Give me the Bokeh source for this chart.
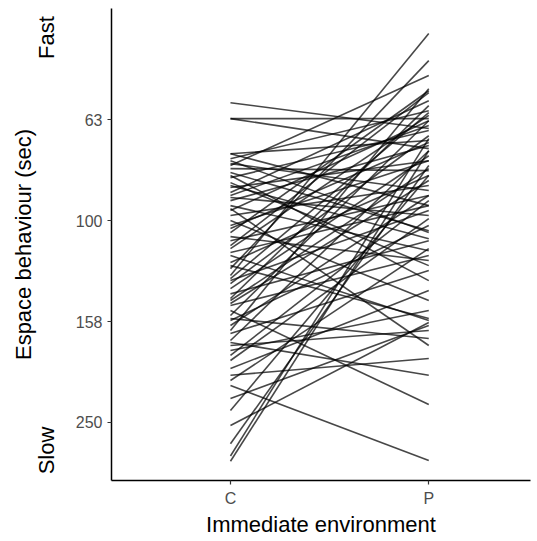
import math
from bokeh.plotting import figure
from bokeh.models import Range1d, FixedTicker, LogAxis, ColumnDataSource
from bokeh.embed import file_html
from bokeh.resources import INLINE

categories = ["C", "P"]

# escape time (sec) for each individual in environment C and P
time_C = [58.4, 62.8, 62.8, 73.7, 73.7, 75.4, 77.1, 78.9, 80.3, 82.2,
          84.1, 86.0, 88.0, 90.0, 91.3, 93.4, 95.5, 97.7, 100.0, 102.3,
          105.6, 109.6, 113.6, 117.3, 121.1, 124.5, 128.5, 131.5, 133.3, 136.4,
          139.7, 142.7, 146.0, 150.7, 154.2, 157.8, 165.1, 167.4, 172.8, 176.8,
          185.0, 196.4, 202.5, 212.2, 225.1, 237.8, 254.7, 276.8, 292.7, 299.8,
          77.8, 81.4, 85.2, 89.2, 94.7, 103.7, 107.6, 112.1, 115.7, 122.8,
          130.3, 144.0, 147.3, 156.3, 161.4, 180.9, 189.3, 207.4, 174.4, 76.1]
time_P = [65.7, 62.8, 72.0, 69.4, 93.4, 60.6, 87.2, 79.6, 104.7, 66.3,
          122.8, 76.1, 57.9, 97.7, 71.0, 114.7, 63.4, 85.2, 144.0, 76.1,
          55.3, 89.2, 61.9, 157.8, 81.4, 48.2, 42.6, 95.5, 67.9, 74.4,
          109.6, 59.2, 83.3, 231.4, 63.4, 102.3, 54.8, 125.6, 72.7, 165.1,
          91.3, 137.6, 187.6, 298.6, 161.4, 81.4, 159.2, 77.8, 68.8, 72.7,
          51.6, 131.5, 108.6, 64.8, 176.8, 70.0, 120.0, 55.8, 93.4, 156.3,
          61.1, 78.9, 117.3, 171.3, 89.2, 150.7, 99.1, 113.6, 202.5, 105.6]

y_ticks = [63.1, 100.0, 158.5, 251.2]
y_tick_labels = ["63", "100", "158", "250"]
speed_ticks = [43.4, 285.4]
speed_labels = ["Fast", "Slow"]

x_pos = [1, 2]
xs = [x_pos for _ in time_C]
ys = [[c, q] for c, q in zip(time_C, time_P)]
src = ColumnDataSource(dict(xs=xs, ys=ys))

y_lo, y_hi = 327.3, 38.0
x_lo, x_hi = 0.4, 2.513

p = figure(width=537, height=541, output_backend="svg", toolbar_location=None,
           y_axis_type="log",
           x_range=Range1d(x_lo, x_hi), y_range=Range1d(y_lo, y_hi),
           min_border_left=111, min_border_right=7, min_border_top=8,
           min_border_bottom=61)
p.outline_line_color = None
p.grid.visible = False
p.background_fill_color = "white"
p.border_fill_color = "white"

p.multi_line("xs", "ys", source=src, line_color="black", line_alpha=0.72,
             line_width=1.6)

FONT = "Liberation Sans"
for ax in (p.xaxis, p.yaxis):
    ax.axis_line_color = "black"
    ax.axis_line_width = 1.5
    ax.major_tick_line_color = "#333333"
    ax.major_tick_line_width = 1.2
    ax.major_tick_out = 4
    ax.major_tick_in = 0
    ax.minor_tick_line_color = None
    ax.major_label_text_font = FONT
    ax.major_label_text_font_size = "16px"
    ax.major_label_text_color = "#4d4d4d"
    ax.major_label_standoff = 5

p.xaxis.ticker = FixedTicker(ticks=x_pos)
p.xaxis.major_label_overrides = {x: c for x, c in zip(x_pos, categories)}
p.xaxis.axis_label = "Immediate environment"
p.xaxis.axis_label_text_font = FONT
p.xaxis.axis_label_text_font_size = "22px"
p.xaxis.axis_label_text_font_style = "normal"
p.xaxis.axis_label_text_color = "black"
p.xaxis.axis_label_standoff = 2
p.xaxis.major_label_standoff = 5

p.yaxis.ticker = FixedTicker(ticks=y_ticks)
p.yaxis.major_label_overrides = {t: l for t, l in zip(y_ticks, y_tick_labels)}
p.yaxis.axis_label = None

speed_axis = LogAxis(ticker=FixedTicker(ticks=speed_ticks),
                     major_label_overrides={t: l for t, l in zip(speed_ticks, speed_labels)},
                     major_label_orientation="vertical",
                     major_label_text_font=FONT,
                     major_label_text_font_size="22px",
                     major_label_text_color="black",
                     major_label_standoff=7,
                     axis_line_color=None,
                     major_tick_line_color=None,
                     minor_tick_line_color=None,
                     axis_label="Espace behaviour (sec)",
                     axis_label_text_font=FONT,
                     axis_label_text_font_size="22px",
                     axis_label_text_font_style="normal",
                     axis_label_text_color="black",
                     axis_label_standoff=-4)
p.add_layout(speed_axis, "left")

open("out.html", "w").write(file_html(p, INLINE))
